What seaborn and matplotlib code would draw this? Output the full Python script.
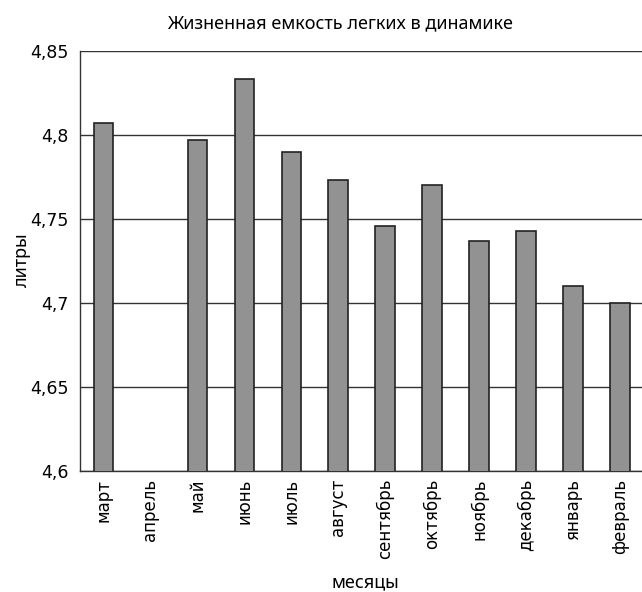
import numpy as np
import pandas as pd
import matplotlib
matplotlib.use('Agg')
import matplotlib.pyplot as plt
import seaborn as sns
from matplotlib.ticker import FuncFormatter, FixedLocator

months = ['март', 'апрель', 'май', 'июнь', 'июль', 'август', 'сентябрь',
          'октябрь', 'ноябрь', 'декабрь', 'январь', 'февраль']
volume = [4.807, np.nan, 4.797, 4.833, 4.790, 4.773, 4.746,
          4.770, 4.737, 4.743, 4.710, 4.700]
y_ticks = [4.6, 4.65, 4.7, 4.75, 4.8, 4.85]

df = pd.DataFrame({'месяц': months, 'литры': volume})

sns.set_style('white')
plt.rcParams['font.family'] = ['DejaVu Sans']
plt.rcParams['text.color'] = 'black'
plt.rcParams['xtick.labelcolor'] = 'black'
plt.rcParams['ytick.labelcolor'] = 'black'

fig = plt.figure(figsize=(6.42, 5.92), dpi=100)
ax = fig.add_axes([0.1246, 0.205, 0.878, 0.709])

sns.barplot(data=df, x='месяц', y='литры', color='#929292', width=0.42,
            edgecolor='#222222', linewidth=1.2, saturation=1, ax=ax, zorder=3)

ax.set_ylim(4.6, 4.85)
ax.set_xlim(-0.5, len(months) - 0.5)
ax.yaxis.set_major_locator(FixedLocator(y_ticks))
ax.yaxis.set_major_formatter(FuncFormatter(lambda v, p: f'{v:g}'.replace('.', ',')))
ax.yaxis.grid(True, color='#333333', linewidth=1)
ax.set_axisbelow(True)

# деления по границам категорий
ax.xaxis.set_minor_locator(FixedLocator(np.arange(-0.5, len(months), 1.0)))
ax.tick_params(axis='x', which='major', length=0, pad=6, labelsize=12, rotation=90)
ax.tick_params(axis='x', which='minor', length=5, width=1, color='#333333', direction='out')
ax.tick_params(axis='y', which='major', length=6, width=1, color='#333333',
               direction='out', labelsize=12.5, pad=2)

for s in ['top', 'right']:
    ax.spines[s].set_visible(False)
for s in ['left', 'bottom']:
    ax.spines[s].set_color('#333333')
    ax.spines[s].set_linewidth(1)

ax.set_xlabel('')
ax.set_ylabel('')
lab_font = ['Noto Sans', 'DejaVu Sans']
fig.text(0.53, 0.961, 'Жизненная емкость легких в динамике', ha='center', va='center',
         fontsize=13, family=lab_font)
fig.text(0.034, 0.56, 'литры', rotation=90, ha='center', va='center', fontsize=13, family=lab_font)
fig.text(0.569, 0.016, 'месяцы', ha='center', va='center', fontsize=13, family=lab_font)

fig.savefig('out.png', dpi=100)
